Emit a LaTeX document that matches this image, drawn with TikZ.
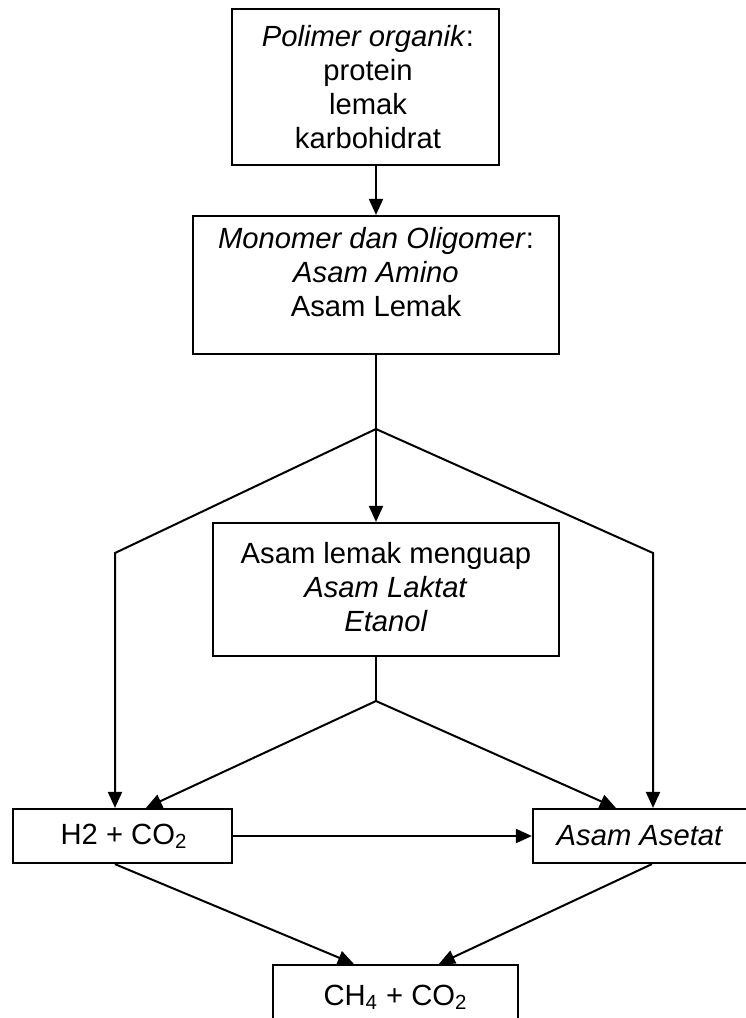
\documentclass[tikz,border=0pt]{standalone}
\usepackage{fontspec}
\setmainfont{Liberation Sans}
\usetikzlibrary{arrows.meta,calc}
\tikzset{
  box/.style={draw, line width=1.1pt, inner sep=0pt, rectangle},
  txt/.style={inner sep=0pt, align=center, font=\fontsize{14.6}{17}\selectfont},
  conn/.style={line width=1pt},
  arr/.style={conn, -{Triangle[length=8pt,width=7pt]}}
}
\begin{document}
\begin{tikzpicture}[x=0.5pt,y=-0.5pt]
\useasboundingbox (0,0) rectangle (745,1018);
% boxes
\node[box, minimum width=133.5pt, minimum height=78pt] (b1) at (365.5,87) {};
\node[box, minimum width=183pt, minimum height=69pt] (b2) at (376,285) {};
\node[box, minimum width=173pt, minimum height=66.5pt] (b3) at (386,589.5) {};
\node[box, minimum width=109.5pt, minimum height=27pt] (b4) at (122.5,836) {};
\node[box, minimum width=125pt, minimum height=27pt] (b5) at (658,836) {};
\node[box, minimum width=122.5pt, minimum height=32.5pt] (b6) at (395.5,997.5) {};
% texts
\node[txt] (t1) at (368,87) {\textit{Polimer organik}:\\protein\\lemak\\karbohidrat};
\node[txt] (t2) at (376,272) {\textit{Monomer dan Oligomer}:\\\textit{Asam Amino}\\Asam Lemak};
\node[txt] (t3) at (386,587) {Asam lemak menguap\\\textit{Asam Laktat}\\\textit{Etanol}};
\node[txt] (t4) at (124,836) {H2 + CO\textsubscript{2}};
\node[txt] (t5) at (640,836) {\textit{Asam Asetat}};
\node[txt] (t6) at (395.5,997) {CH\textsubscript{4} + CO\textsubscript{2}};
% branch points
\coordinate (s1) at (376,429);
\coordinate (l1) at (115,553);
\coordinate (r1) at (653,553);
\coordinate (s2) at (376,701);
% connectors
\draw[arr] (b1.south -| b2.north) -- (b2.north);
\draw[conn] (b2.south) -- (s1);
\draw[arr] (s1) -- (s1 |- b3.north);
\draw[arr] (s1) -- (l1) -- (l1 |- b4.north);
\draw[arr] (s1) -- (r1) -- (r1 |- b5.north);
\draw[conn] (s2 |- b3.south) -- (s2);
\draw[arr] (s2) -- ($(b4.north west)+(134,0)$);
\draw[arr] (s2) -- ($(b5.north west)+(84,0)$);
\draw[arr] (b4.east) -- (b5.west);
\draw[arr] ($(b4.south west)+(103,0)$) -- ($(b6.north west)+(82,0)$);
\draw[arr] ($(b5.south west)+(120,0)$) -- ($(b6.north west)+(167,0)$);
\end{tikzpicture}
\end{document}
